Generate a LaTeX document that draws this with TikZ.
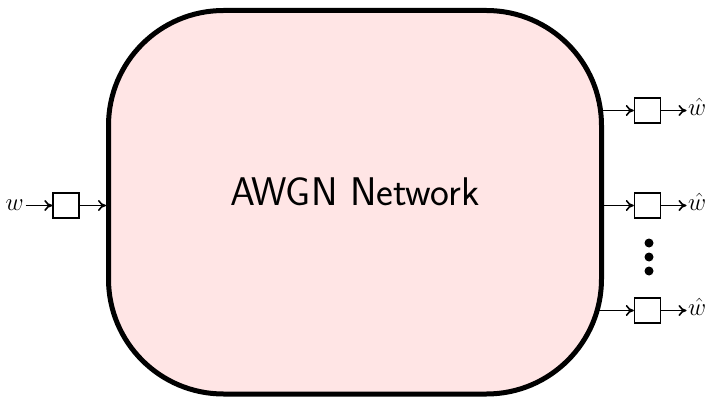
\documentclass[tikz,border=0pt]{standalone}
\usetikzlibrary{backgrounds,arrows.meta}
\begin{document}
\begin{tikzpicture}[x=1pt,y=1pt,
  sbox/.style={draw, line width=1.4pt, fill=white, minimum width=26pt, minimum height=25pt, inner sep=0pt},
  conn/.style={-{To[length=8pt,width=11pt,line width=1.6pt]}, line width=1.6pt},
  lbl/.style={inner xsep=1.5pt, inner ysep=0pt, font=\fontsize{24}{28}\selectfont, text height=10.3pt, text depth=0pt},
  dot/.style={circle, fill=black, inner sep=0pt, minimum size=9pt}]
\useasboundingbox (0,0) rectangle (709,402);
\node[draw, line width=5pt, fill=red!10, rounded corners=115pt,
      minimum width=493pt, minimum height=383.5pt, inner sep=0pt,
      text height=30pt, text depth=22.5pt,
      font=\sffamily\fontsize{40}{48}\selectfont] (net) at (355,199.75) {AWGN Network};
\node[sbox] (bin) at (66,196.5) {};
\node[lbl, anchor=east] (w) at (25.5,196.5) {$w$};
\node[sbox] (b1) at (647.5,291.5) {};
\node[sbox] (b2) at (647.5,196.5) {};
\node[sbox] (b3) at (647.5,91.5) {};
\node[lbl, anchor=west] (o1) at (686.5,291.5) {$\hat{w}$};
\node[lbl, anchor=west] (o2) at (686.5,196.5) {$\hat{w}$};
\node[lbl, anchor=west] (o3) at (686.5,91.5) {$\hat{w}$};
\node[dot] (d1) at (649,159) {};
\node[dot] (d2) at (649,145) {};
\node[dot] (d3) at (649,131) {};
\draw[conn] (w) -- (bin);
\draw[conn] (bin) -- (bin -| net.west);
\begin{scope}[on background layer]
\draw[conn] ([xshift=-10pt]net.east |- b1) -- (b1);
\draw[conn] ([xshift=-10pt]net.east |- b2) -- (b2);
\draw[conn] ([xshift=-10pt]net.east |- b3) -- (b3);
\end{scope}
\draw[conn] (b1) -- (o1);
\draw[conn] (b2) -- (o2);
\draw[conn] (b3) -- (o3);
\end{tikzpicture}
\end{document}
